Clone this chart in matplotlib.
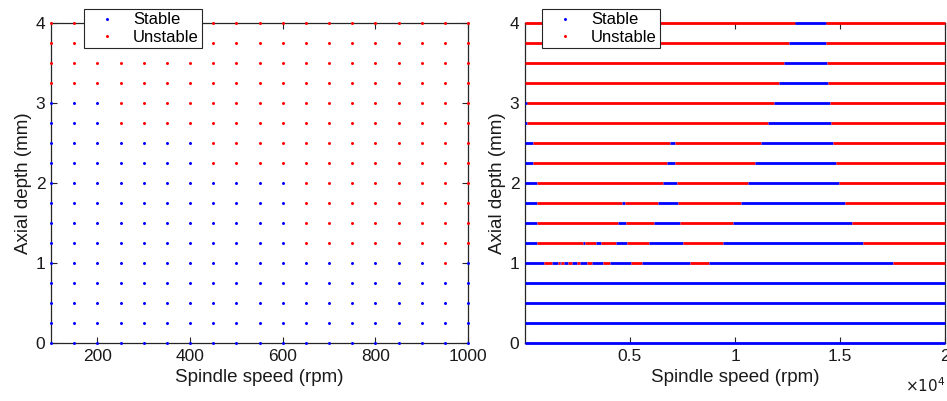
import numpy as np
import matplotlib
matplotlib.use("Agg")
import matplotlib.pyplot as plt
from matplotlib.lines import Line2D

plt.rcParams['font.family'] = ['Liberation Sans', 'DejaVu Sans']

# ---------------- data ----------------
# Left panel: grid of simulated cuts
speeds_left = [100, 150, 200, 250, 300, 350, 400, 450, 500, 550,
               600, 650, 700, 750, 800, 850, 900, 950, 1000]
depths = [0, 0.25, 0.5, 0.75, 1.0, 1.25, 1.5, 1.75, 2.0,
          2.25, 2.5, 2.75, 3.0, 3.25, 3.5, 3.75, 4.0]
# one string per depth (same order as depths), one char per speed: S=stable, U=unstable
left_state = [
    "SSSSSSSSSSSSSSSSSSS",  # 0
    "SSSSSSSSSSSSSSSSSSS",  # 0.25
    "SSSSSSSSSSSSSSSSSSS",  # 0.5
    "SSSSSSSSSSSSSSSSSSS",  # 0.75
    "SSSSSSSSSSSSSSSSSUS",  # 1.0
    "SSSSSSSSSSSUUUUUUUU",  # 1.25
    "SSSSSSSSSSSUUUUUUUU",  # 1.5
    "SSSSSSSSSSSUUUUUUUU",  # 1.75
    "SSSSSSSSSSSUUUUUUUU",  # 2.0
    "SSSSSSSUUUUUUUUUUUU",  # 2.25
    "SSSSSSSUUUUUUUUUUUU",  # 2.5
    "SSSUUUUUUUUUUUUUUUU",  # 2.75
    "SSSUUUUUUUUUUUUUUUU",  # 3.0
    "UUUUUUUUUUUUUUUUUUU",  # 3.25
    "UUUUUUUUUUUUUUUUUUU",  # 3.5
    "UUUUUUUUUUUUUUUUUUU",  # 3.75
    "UUUUUUUUUUUUUUUUUUU",  # 4.0
]

# Right panel: stability transitions (rpm) along each depth, states alternate
right_first = ['S', 'S', 'S', 'S', 'S', 'S', 'S', 'S', 'S',
               'S', 'S', 'S', 'S', 'U', 'U', 'U', 'U']
right_breaks = [
    [0, 20000],
    [0, 20000],
    [0, 20000],
    [0, 20000],
    [0, 900, 1270, 1590, 1670, 1710, 1860, 2060, 2250, 2460, 2620, 2940,
     3210, 3700, 4050, 5070, 5560, 7860, 8740, 17510, 20000],
    [0, 590, 2750, 2860, 3370, 3620, 4320, 4870, 5920, 7540, 9440, 16110, 20000],
    [0, 590, 4440, 4810, 6140, 7380, 9890, 15560, 20000],
    [0, 590, 4600, 4760, 6320, 7270, 10290, 15240, 20000],
    [0, 590, 6560, 7220, 10630, 14970, 20000],
    [0, 380, 6750, 7140, 10950, 14810, 20000],
    [0, 380, 6900, 7150, 11240, 14670, 20000],
    [0, 100, 11560, 14570, 20000],
    [0, 100, 11860, 14510, 20000],
    [0, 12110, 14410, 20000],
    [0, 12330, 14380, 20000],
    [0, 12590, 14330, 20000],
    [0, 12860, 14330, 20000],
]

left_xticks = [200, 400, 600, 800, 1000]
right_xticks = [5000, 10000, 15000, 20000]
right_xticklabels = ['0.5', '1', '1.5', '2']
yticks = [0, 1, 2, 3, 4]

BLUE = (0, 0, 1)
RED = (1, 0, 0)
AXC = (0.15, 0.15, 0.15)
TXC = (0.1, 0.1, 0.1)

# ---------------- figure ----------------
fig = plt.figure(figsize=(9.47, 4.01), dpi=100)
axL = fig.add_axes([51/947, 1-343/401, (468-51)/947, 320/401])
axR = fig.add_axes([525/947, 1-343/401, (945-525)/947, 320/401])


def style(ax):
    ax.tick_params(direction='in', length=4, width=0.8, top=True, right=True,
                   colors=AXC, labelcolor=TXC, labelsize=12.5, pad=4)
    for s in ax.spines.values():
        s.set_color(AXC)
        s.set_linewidth(0.9)
    ax.set_ylim(0, 4)
    ax.set_yticks(yticks)
    ax.set_xlabel('Spindle speed (rpm)', fontsize=13.5, color=TXC, labelpad=4)
    ax.set_ylabel('Axial depth (mm)', fontsize=13.5, color=TXC, labelpad=2.5)


# Left panel
sx, sy, ux, uy = [], [], [], []
for d, row in zip(depths, left_state):
    for s, c in zip(speeds_left, row):
        if c == 'S':
            sx.append(s); sy.append(d)
        else:
            ux.append(s); uy.append(d)
axL.plot(sx, sy, '.', color=BLUE, markersize=2.3, clip_on=False, zorder=3)
axL.plot(ux, uy, '.', color=RED, markersize=2.3, clip_on=False, zorder=3)
axL.set_xlim(100, 1000)
axL.set_xticks(left_xticks)
style(axL)

# Right panel
for d, first, br in zip(depths, right_first, right_breaks):
    state = first
    for a, b in zip(br[:-1], br[1:]):
        axR.hlines(d, a, b, colors=BLUE if state == 'S' else RED,
                   linewidth=2.0, clip_on=False, zorder=3)
        state = 'U' if state == 'S' else 'S'
axR.set_xlim(0, 20000)
axR.set_xticks(right_xticks)
axR.set_xticklabels(right_xticklabels)
style(axR)
axR.text(1.0, -0.105, r'$\times10^{4}$', transform=axR.transAxes,
         ha='right', va='top', fontsize=11, color=TXC)

# Legends
handles = [Line2D([], [], marker='.', ls='none', color=BLUE, markersize=2.3),
           Line2D([], [], marker='.', ls='none', color=RED, markersize=2.3)]
for xl in (84/947, 542/947):
    leg = fig.legend(handles, ['Stable', 'Unstable'], loc='upper left',
                     bbox_to_anchor=(xl, 1-9/401), bbox_transform=fig.transFigure,
                     borderaxespad=0, fancybox=False, framealpha=1, edgecolor=AXC,
                     fontsize=12, handlelength=2.3, handletextpad=0.45,
                     borderpad=0.2, labelspacing=0.15)
    leg.get_frame().set_linewidth(0.8)
    leg.set_zorder(10)

fig.savefig('out.png', dpi=100)
